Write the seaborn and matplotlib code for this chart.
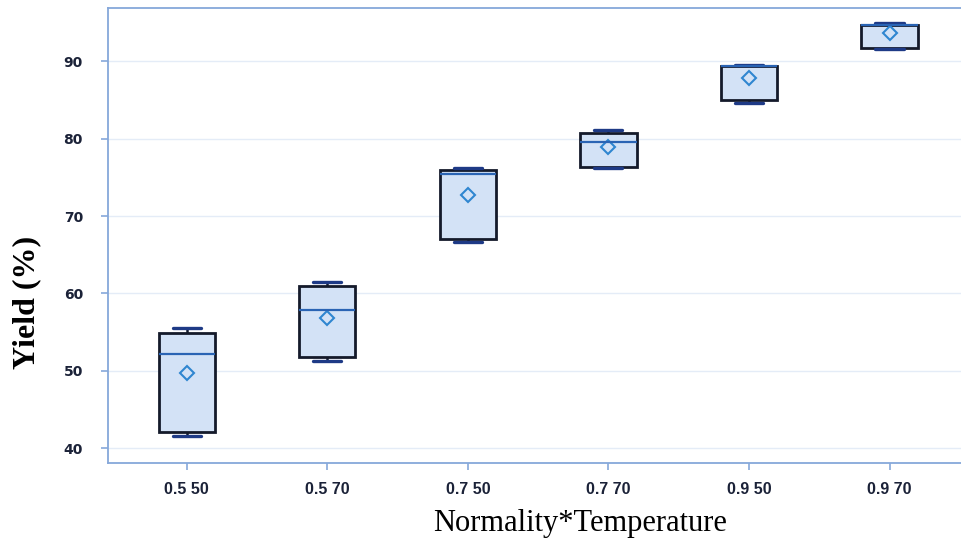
import numpy as np
import pandas as pd
import matplotlib
matplotlib.use("Agg")
import matplotlib.pyplot as plt
import seaborn as sns

# Normality*Temperature groups and box statistics (Yield %)
groups = ["0.5 50", "0.5 70", "0.7 50", "0.7 70", "0.9 50", "0.9 70"]
y_min = [41.5, 51.3, 66.6, 76.2, 84.6, 91.6]
y_q1 = [42.1, 51.8, 67.0, 76.4, 85.0, 91.7]
y_med = [52.2, 57.9, 75.4, 79.6, 89.4, 94.7]
y_q3 = [54.9, 61.0, 75.9, 80.8, 89.4, 94.7]
y_max = [55.5, 61.5, 76.2, 81.2, 89.5, 95.0]
y_mean = [49.7, 56.8, 72.7, 79.0, 87.8, 93.7]
yticks = [40, 50, 60, 70, 80, 90]

# five values per group so the box lands on min/q1/median/q3/max
rows = []
for i, g in enumerate(groups):
    for v in (y_min[i], y_q1[i], y_med[i], y_q3[i], y_max[i]):
        rows.append({"combo": g, "yield": v})
df = pd.DataFrame(rows)

sns.set_style("white")

box_fill = "#d3e2f6"
edge = "#141a2a"
median_c = "#2a64b4"
cap_c = "#1e3a86"
mean_c = "#2f86d0"
spine_c = "#86a8da"
grid_c = "#e4ecf7"
tick_txt = "#1b2238"

fig = plt.figure(figsize=(9.61, 5.42), dpi=100)
ax = fig.add_axes([108 / 961, 1 - 463 / 542, 0.92, (463 - 8) / 542])

sns.boxplot(data=df, x="combo", y="yield", order=groups, width=0.4,
            whis=(0, 100), showfliers=False, color=box_fill, saturation=1,
            linecolor=edge, linewidth=2.0,
            medianprops=dict(color=median_c, linewidth=1.6),
            whiskerprops=dict(color=edge, linewidth=1.8),
            capprops=dict(color=cap_c, linewidth=2.4),
            ax=ax)

sns.pointplot(x=groups, y=y_mean, order=groups, linestyle="none",
              marker="D", markersize=7, markerfacecolor="none",
              markeredgewidth=1.5, color=mean_c, errorbar=None, ax=ax)

ax.set_xlim(-0.56, 5.73)
ax.set_ylim(38.06, 96.92)
ax.set_yticks(yticks)
ax.set_yticklabels([str(t) for t in yticks], fontfamily="DejaVu Sans",
                   fontweight="bold", fontsize=10, color=tick_txt)
ax.set_xticks(range(len(groups)))
ax.set_xticklabels(groups, fontfamily="Liberation Sans", fontweight="bold",
                   fontsize=11.5, color=tick_txt)

ax.yaxis.grid(True, color=grid_c, linewidth=1.0)
ax.xaxis.grid(False)
ax.set_axisbelow(True)

for s in ax.spines.values():
    s.set_visible(True)
    s.set_color(spine_c)
    s.set_linewidth(1.3)

ax.tick_params(axis="x", length=5, width=1.2, color=spine_c, pad=9, bottom=True)
ax.tick_params(axis="y", length=5, width=1.2, color=spine_c, pad=13, left=True)

ax.set_xlabel("Normality*Temperature", fontfamily="Liberation Serif",
              fontsize=22, color="black")
ax.set_ylabel("Yield (%)", fontfamily="Liberation Serif", fontweight="bold",
              fontsize=23, color="black")
ax.xaxis.set_label_coords(0.534, -0.102)
ax.yaxis.set_label_coords(-0.076, 0.352)

fig.savefig("out.png", dpi=100)
